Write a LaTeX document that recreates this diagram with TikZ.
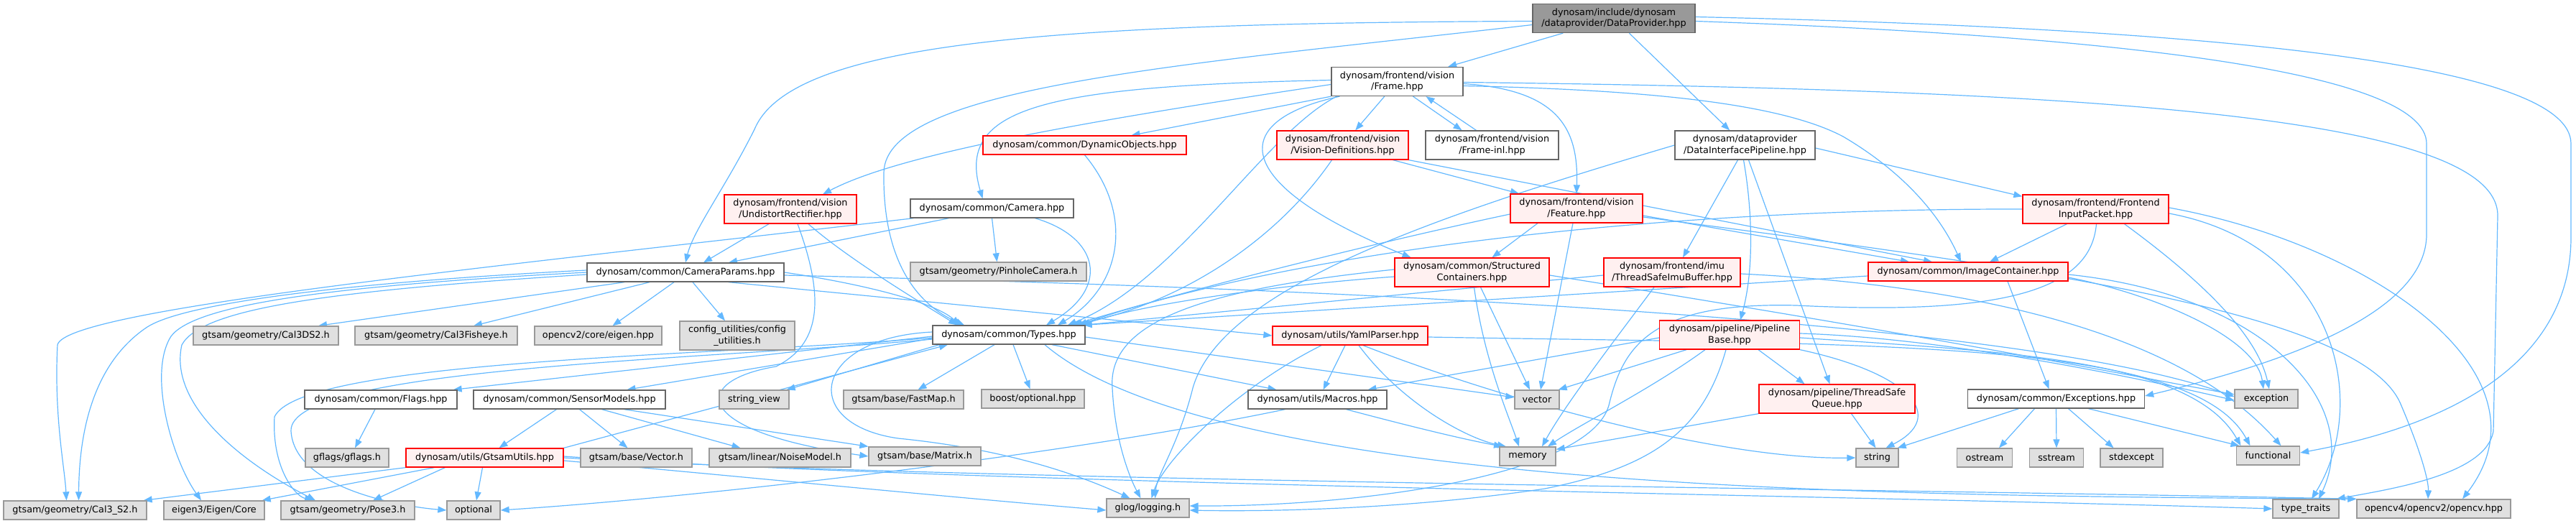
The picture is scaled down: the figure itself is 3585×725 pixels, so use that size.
\documentclass[tikz,border=0pt]{standalone}
\usepackage{fontspec}
\setmainfont{DejaVu Sans}
\usetikzlibrary{arrows.meta}
\definecolor{extfill}{HTML}{E0E0E0}
\definecolor{extdraw}{HTML}{999999}
\definecolor{locdraw}{HTML}{666666}
\definecolor{redfill}{HTML}{FFF0F0}
\definecolor{rootfill}{HTML}{999999}
\definecolor{edgec}{HTML}{63B8FF}
\pgfdeclarelayer{bg}
\pgfsetlayers{bg,main}
\begin{document}
\begin{tikzpicture}[x=1pt,y=-1pt,
  nd/.style={draw, rectangle, line width=1.3pt, align=center, inner xsep=3pt, inner ysep=2pt, minimum height=26pt, font=\fontsize{12.8}{15.3}\selectfont, text=black},
  two/.style={minimum height=40pt},
  ext/.style={nd, fill=extfill, draw=extdraw},
  loc/.style={nd, fill=white, draw=locdraw},
  trunc/.style={nd, fill=redfill, draw=red},
  root/.style={nd, fill=rootfill, draw=locdraw},
  e/.style={draw=edgec, line width=1.2pt, -{Triangle[length=12pt,width=9pt]}},
]
\useasboundingbox (0,0) rectangle (3585,725);
% row A
\node[root,two,minimum width=226pt] (dp) at (2246,25.5) {dynosam/include/dynosam\\/dataprovider/DataProvider.hpp};
% row B
\node[loc,two,minimum width=183pt] (frame) at (1944.5,113.5) {dynosam/frontend/vision\\/Frame.hpp};
% row C
\node[trunc,minimum width=283pt] (dynobj) at (1509.5,202) {dynosam/common/DynamicObjects.hpp};
\node[trunc,two,minimum width=183pt] (vdef) at (1868.5,202) {dynosam/frontend/vision\\/Vision-Definitions.hpp};
\node[loc,two,minimum width=185pt] (finl) at (2076.5,202) {dynosam/frontend/vision\\/Frame-inl.hpp};
\node[loc,two,minimum width=195pt] (dip) at (2428.5,202) {dynosam/dataprovider\\/DataInterfacePipeline.hpp};
% row D
\node[trunc,two,minimum width=184pt] (undist) at (1100,291) {dynosam/frontend/vision\\/UndistortRectifier.hpp};
\node[loc,minimum width=227pt] (camera) at (1380.5,290) {dynosam/common/Camera.hpp};
\node[trunc,two,minimum width=184pt] (feature) at (2194,290) {dynosam/frontend/vision\\/Feature.hpp};
\node[trunc,two,minimum width=203pt] (fip) at (2916.5,291) {dynosam/frontend/Frontend\\InputPacket.hpp};
% row E
\node[loc,minimum width=274pt] (camparams) at (954,379) {dynosam/common/CameraParams.hpp};
\node[ext,minimum width=245pt] (pinhole) at (1389.5,378) {gtsam/geometry/PinholeCamera.h};
\node[trunc,two,minimum width=215pt] (structc) at (2048.5,379) {dynosam/common/Structured\\Containers.hpp};
\node[trunc,two,minimum width=190pt] (imubuf) at (2327,379) {dynosam/frontend/imu\\/ThreadSafeImuBuffer.hpp};
\node[trunc,minimum width=278pt] (imgc) at (2739,378) {dynosam/common/ImageContainer.hpp};
% row F
\node[ext,minimum width=202pt] (cal3ds2) at (370,467) {gtsam/geometry/Cal3DS2.h};
\node[ext,minimum width=226pt] (fisheye) at (607,467) {gtsam/geometry/Cal3Fisheye.h};
\node[ext,minimum width=177pt] (cveigen) at (832.5,467) {opencv2/core/eigen.hpp};
\node[ext,two,minimum width=160pt] (config) at (1026,467) {config\_utilities/config\\\_utilities.h};
\node[loc,minimum width=212pt] (types) at (1404,466) {dynosam/common/Types.hpp};
\node[trunc,minimum width=216pt] (yaml) at (1879,467) {dynosam/utils/YamlParser.hpp};
\node[trunc,two,minimum width=195pt] (pbase) at (2407,466) {dynosam/pipeline/Pipeline\\Base.hpp};
% row G
\node[loc,minimum width=212pt] (flags) at (530,556) {dynosam/common/Flags.hpp};
\node[loc,minimum width=267pt] (sensor) at (792.5,556) {dynosam/common/SensorModels.hpp};
\node[ext,minimum width=97pt] (strview) at (1049.5,556) {string\_view};
\node[ext,minimum width=167pt] (fastmap) at (1257.5,556) {gtsam/base/FastMap.h};
\node[ext,minimum width=143pt] (boostopt) at (1437.5,555) {boost/optional.hpp};
\node[loc,minimum width=193pt] (macros) at (1833.5,556) {dynosam/utils/Macros.hpp};
\node[ext,minimum width=62pt] (vector) at (2139,556) {vector};
\node[trunc,two,minimum width=217pt] (tsq) at (2556.5,555) {dynosam/pipeline/ThreadSafe\\Queue.hpp};
\node[loc,minimum width=246pt] (exceptions) at (2861.5,555) {dynosam/common/Exceptions.hpp};
\node[ext,minimum width=88pt] (exception) at (3154,555) {exception};
% row H
\node[ext,minimum width=116pt] (gflags) at (483,637) {gflags/gflags.h};
\node[trunc,minimum width=219pt] (gtsamutils) at (674.5,637) {dynosam/utils/GtsamUtils.hpp};
\node[ext,minimum width=155pt] (vectorh) at (885.5,637) {gtsam/base/Vector.h};
\node[ext,minimum width=197pt] (noise) at (1085.5,637) {gtsam/linear/NoiseModel.h};
\node[ext,minimum width=156pt] (matrix) at (1287,635) {gtsam/base/Matrix.h};
\node[ext,minimum width=78pt] (memory) at (2126,635) {memory};
\node[ext,minimum width=59pt] (string) at (2612.5,637) {string};
\node[ext,minimum width=77pt] (ostream) at (2762,637) {ostream};
\node[ext,minimum width=75pt] (sstream) at (2862,637) {sstream};
\node[ext,minimum width=87pt] (stdexcept) at (2966.5,637) {stdexcept};
\node[ext,minimum width=88pt] (functional) at (3156.5,634) {functional};
% row I
\node[ext,minimum width=199pt] (cal3s2) at (104.5,710) {gtsam/geometry/Cal3\_S2.h};
\node[ext,minimum width=140pt] (eigencore) at (298,710) {eigen3/Eigen/Core};
\node[ext,minimum width=186pt] (pose3) at (484,710) {gtsam/geometry/Pose3.h};
\node[ext,minimum width=74pt] (optional) at (659,710) {optional};
\node[ext,minimum width=115pt] (glog) at (1597.5,707) {glog/logging.h};
\node[ext,minimum width=92pt] (typetraits) at (3209,708) {type\_traits};
\node[ext,minimum width=214pt] (opencv) at (3387,708) {opencv4/opencv2/opencv.hpp};

\begin{pgfonlayer}{bg}
% DataProvider
\draw[e] (dp) -- (frame);
\draw[e] (dp) -- (dip);
\draw[e] ([yshift=-4pt]dp.west) .. controls (1450,32) and (1100,60) .. (1050,180) .. controls (1010,260) and (965,320) .. (camparams.north);
\draw[e] ([yshift=-9pt]dp.west) .. controls (1650,90) and (1232,120) .. (1230,240) .. controls (1228,380) and (1290,430) .. ([xshift=-62pt]types.north);
\draw[e] ([yshift=2pt]dp.east) .. controls (3100,40) and (3578,90) .. (3578,200) -- (3578,330) .. controls (3578,500) and (3420,590) .. ([yshift=4pt]functional.east);
\draw[e] ([yshift=-4pt]dp.east) .. controls (2950,50) and (3377,100) .. (3377,200) -- (3377,326) .. controls (3377,430) and (3200,500) .. ([yshift=4pt]exceptions.east);
% Frame
\draw[e] (frame) -- (vdef);
\draw[e] ([xshift=22pt]frame.south) -- ([xshift=-42pt]finl.north);
\draw[e] ([xshift=-22pt]finl.north) -- ([xshift=40pt]frame.south);
\draw[e] ([yshift=-3pt]frame.east) .. controls (2170,125) and (2197,180) .. (feature.north);
\draw[e] ([yshift=-4pt]frame.west) .. controls (1500,170) and (1250,215) .. ([xshift=45pt]undist.north);
\draw[e] (frame.south west) -- ([xshift=65pt]dynobj.north);
\draw[e] ([yshift=2pt]frame.west) .. controls (1450,120) and (1330,150) .. ([xshift=-13pt]camera.north);
\draw[e] ([xshift=8pt]frame.south west) .. controls (1760,185) and (1640,390) .. ([xshift=82pt]types.north);
\draw[e] ([xshift=12pt]frame.south west) .. controls (1700,170) and (1720,260) .. ([xshift=-85pt]structc.north);
\draw[e] ([yshift=-6pt]frame.east) .. controls (2300,125) and (2480,145) .. (2565,190) .. controls (2650,240) and (2700,300) .. ([xshift=-10pt]imgc.north);
\draw[e] ([yshift=-1pt]frame.east) .. controls (2900,125) and (3476,160) .. (3476,300) -- (3470,600) .. controls (3460,660) and (3330,680) .. ([xshift=-4pt]typetraits.north east);
% Vision-Definitions
\draw[e] ([xshift=70pt]vdef.south) -- ([xshift=-80pt]feature.north);
\draw[e] ([xshift=-15pt]vdef.south) .. controls (1780,330) and (1650,420) .. ([xshift=90pt]types.north);
\draw[e] (vdef.south east) -- ([xshift=-50pt]imgc.north);
% DynamicObjects
\draw[e] (dynobj.south) .. controls (1580,300) and (1560,400) .. ([xshift=68pt]types.north);
% UndistortRectifier
\draw[e] ([xshift=-30pt]undist.south) -- ([xshift=25pt]camparams.north);
\draw[e] ([xshift=25pt]undist.south) .. controls (1180,360) and (1280,420) .. ([xshift=-72pt]types.north);
\draw[e] ([xshift=10pt]undist.south) .. controls (1150,420) and (1140,480) .. (1080,510) .. controls (960,530) and (960,600) .. (matrix.west);
% Camera
\draw[e] (camera.south) -- ([xshift=-2pt]pinhole.north);
\draw[e] ([xshift=-60pt]camera.south) -- ([xshift=60pt]camparams.north);
\draw[e] ([xshift=60pt]camera.south) .. controls (1530,330) and (1545,400) .. ([xshift=52pt]types.north);
\draw[e] ([xshift=5pt]camera.south west) .. controls (700,370) and (90,430) .. (80,480) .. controls (75,580) and (90,650) .. ([xshift=-12pt]cal3s2.north);
% CameraParams
\draw[e] ([xshift=-85pt]camparams.south) -- ([xshift=73pt]cal3ds2.north);
\draw[e] ([xshift=-50pt]camparams.south) -- ([xshift=52pt]fisheye.north);
\draw[e] ([xshift=-16pt]camparams.south) -- ([xshift=20pt]cveigen.north);
\draw[e] ([xshift=10pt]camparams.south) -- ([xshift=-17pt]config.north);
\draw[e] ([yshift=3pt]camparams.west) .. controls (500,392) and (260,420) .. (205,455) .. controls (130,505) and (110,600) .. ([xshift=5pt]cal3s2.north);
\draw[e] (camparams.west) .. controls (450,398) and (270,425) .. (238,468) .. controls (205,520) and (240,640) .. ([xshift=-18pt]eigencore.north);
\draw[e] ([yshift=-3pt]camparams.west) .. controls (450,405) and (280,430) .. (253,480) .. controls (235,560) and (330,640) .. ([xshift=-45pt]pose3.north);
\draw[e] (camparams.east) .. controls (1200,395) and (1300,420) .. ([xshift=-68pt]types.north);
\draw[e] ([xshift=60pt]camparams.south) -- (yaml.west);
\draw[e] ([yshift=-4pt]camparams.east) .. controls (1800,400) and (2800,440) .. ([yshift=3pt]exception.west);
% Types
\draw[e] ([yshift=-2pt]types.west) -- ([xshift=-6pt]flags.north east);
\draw[e] ([yshift=-5pt]types.west) -- ([xshift=80pt]sensor.north);
\draw[e] ([xshift=10pt]types.south west) -- ([xshift=-4pt]strview.north east);
\draw[e] ([xshift=-20pt]types.south) -- ([xshift=20pt]fastmap.north);
\draw[e] ([xshift=6pt]types.south) -- ([xshift=-4pt]boostopt.north);
\draw[e] ([xshift=60pt]types.south) -- ([xshift=-57pt]macros.north);
\draw[e] ([yshift=-3pt]types.east) -- ([yshift=3pt]vector.west);
\draw[e] ([yshift=4pt]types.west) .. controls (1130,470) and (1110,590) .. (1250,610) .. controls (1400,625) and (1500,660) .. ([xshift=-25pt]glog.north);
\draw[e] ([yshift=-4pt]types.west) .. controls (1000,495) and (420,500) .. (382,580) .. controls (378,650) and (410,690) .. ([xshift=-48pt]pose3.north);
\draw[e] ([yshift=-6pt]types.west) .. controls (1000,500) and (400,510) .. (405,600) .. controls (410,680) and (560,705) .. (optional.west);
\draw[e] ([xshift=50pt]types.south) .. controls (1700,690) and (2700,690) .. (opencv.north west);
% SensorModels
\draw[e] ([xshift=-18pt]sensor.south) -- ([xshift=20pt]gtsamutils.north);
\draw[e] ([xshift=14pt]sensor.south) -- ([xshift=-12pt]vectorh.north);
\draw[e] ([xshift=45pt]sensor.south) -- ([xshift=-55pt]noise.north);
\draw[e] ([xshift=76pt]sensor.south) -- (matrix.north west);
% GtsamUtils
\draw[e] (gtsamutils.south west) -- ([xshift=-5pt]cal3s2.north east);
\draw[e] ([xshift=40pt]gtsamutils.south west) -- ([xshift=-4pt]eigencore.north east);
\draw[e] ([xshift=55pt]gtsamutils.south west) -- ([xshift=35pt]pose3.north);
\draw[e] ([xshift=-3pt]gtsamutils.south) -- ([xshift=4pt]optional.north);
\draw[e] (gtsamutils.north east) -- ([xshift=-85pt]types.south);
\draw[e] ([yshift=-4pt]gtsamutils.east) .. controls (1000,660) and (1300,690) .. ([yshift=-3pt]glog.west);
\draw[e] ([yshift=2pt]gtsamutils.east) .. controls (1300,672) and (2600,690) .. (typetraits.west);
\draw[e] ([yshift=0pt]gtsamutils.east) .. controls (1300,668) and (2600,680) .. (opencv.north west);
% Flags
\draw[e] ([xshift=-8pt]flags.south) -- ([xshift=11pt]gflags.north);
% YamlParser
\draw[e] ([xshift=-7pt]yaml.south) -- ([xshift=8pt]macros.north);
\draw[e] ([xshift=12pt]yaml.south) .. controls (1950,560) and (2040,610) .. ([xshift=-30pt]memory.north);
\draw[e] ([xshift=-40pt]yaml.south) .. controls (1720,540) and (1620,640) .. ([xshift=5pt]glog.north);
\draw[e] ([xshift=18pt]yaml.south) .. controls (2100,560) and (2400,640) .. (string.west);
\draw[e] ([yshift=-2pt]yaml.east) .. controls (2600,480) and (3050,470) .. ([xshift=-25pt]functional.north);
% Macros
\draw[e] ([xshift=40pt]macros.south) .. controls (1950,590) and (2030,610) .. ([xshift=-35pt]memory.north);
\draw[e] ([xshift=-45pt]macros.south) .. controls (1500,630) and (1000,690) .. (optional.east);
% StructuredContainers
\draw[e] ([xshift=12pt]structc.south) -- ([xshift=-10pt]vector.north);
\draw[e] ([xshift=3pt]structc.south) .. controls (2065,500) and (2100,580) .. ([xshift=-12pt]memory.north);
\draw[e] ([yshift=-6pt]structc.west) .. controls (1800,395) and (1600,420) .. ([xshift=-6pt]types.north east);
\draw[e] ([yshift=-4pt]structc.east) .. controls (2700,470) and (2950,520) .. ([yshift=6pt]exception.west);
\draw[e] ([yshift=4pt]structc.west) .. controls (1700,400) and (1540,440) .. (1548,540) .. controls (1552,620) and (1575,670) .. ([xshift=-10pt]glog.north);
% ThreadSafeImuBuffer
\draw[e] ([xshift=-25pt]imubuf.south) .. controls (2250,470) and (2180,560) .. ([xshift=20pt]memory.north);
\draw[e] ([yshift=-4pt]imubuf.west) -- ([xshift=-3pt]types.north east);
\draw[e] ([yshift=-2pt]imubuf.east) .. controls (2800,400) and (3050,480) .. ([xshift=18pt]functional.north);
% PipelineBase
\draw[e] ([yshift=-4pt]pbase.west) -- ([xshift=70pt]macros.north);
\draw[e] ([xshift=-60pt]pbase.south) -- ([xshift=-2pt]vector.north east);
\draw[e] ([xshift=-34pt]pbase.south) .. controls (2300,540) and (2200,590) .. ([xshift=28pt]memory.north);
\draw[e] ([xshift=-5pt]pbase.south) .. controls (2370,600) and (2300,650) .. (2150,680) .. controls (1950,710) and (1750,712) .. ([yshift=-3pt]glog.east);
\draw[e] ([xshift=40pt]pbase.south) -- ([xshift=-45pt]tsq.north);
\draw[e] (pbase.south east) .. controls (2660,520) and (2710,580) .. ([xshift=12pt]string.north);
\draw[e] ([yshift=2pt]pbase.east) .. controls (2700,470) and (2950,520) .. ([yshift=-2pt]exception.west);
\draw[e] ([yshift=-4pt]pbase.east) .. controls (2800,490) and (3050,500) .. ([xshift=-38pt]functional.north);
% ThreadSafeQueue
\draw[e] (tsq.south west) -- ([yshift=-4pt]memory.north east);
\draw[e] ([xshift=20pt]tsq.south) -- ([xshift=-2pt]string.north);
% DataInterfacePipeline
\draw[e] ([xshift=-10pt]dip.south) -- ([xshift=15pt]imubuf.north);
\draw[e] ([xshift=-2pt]dip.south) .. controls (2440,300) and (2440,380) .. ([xshift=15pt]pbase.north);
\draw[e] ([xshift=5pt]dip.south) -- ([xshift=-10pt]tsq.north);
\draw[e] ([yshift=-4pt]dip.east) -- ([yshift=-3pt]fip.north west);
\draw[e] (dip.west) .. controls (2000,300) and (1700,400) .. (1660,540) .. controls (1640,620) and (1610,660) .. ([xshift=10pt]glog.north);
% ImageContainer
\draw[e] ([xshift=55pt]imgc.south) -- ([xshift=-10pt]exceptions.north);
\draw[e] ([yshift=-6pt]imgc.west) -- ([xshift=-3pt]types.north east);
\draw[e] ([yshift=-4pt]imgc.east) .. controls (3150,410) and (3290,560) .. ([xshift=18pt]typetraits.north);
\draw[e] ([yshift=-8pt]imgc.east) .. controls (3000,410) and (3140,470) .. ([xshift=-4pt]exception.north);
% FrontendInputPacket
\draw[e] ([xshift=-40pt]fip.south) -- ([xshift=30pt]imgc.north);
\draw[e] (fip.west) .. controls (2300,290) and (1800,350) .. ([xshift=-10pt]types.north east);
\draw[e] ([xshift=1pt]fip.south) .. controls (2910,400) and (2800,440) .. (2500,425) .. controls (2300,420) and (2260,480) .. (2240,560) .. controls (2220,660) and (1900,705) .. ([yshift=3pt]glog.east);
\draw[e] ([xshift=40pt]fip.south) .. controls (3050,380) and (3140,460) .. ([xshift=4pt]exception.north);
\draw[e] ([yshift=2pt]fip.east) .. controls (3300,340) and (3560,520) .. ([xshift=40pt]opencv.north);
\draw[e] ([yshift=-6pt]fip.east) .. controls (3250,340) and (3300,560) .. ([xshift=8pt]typetraits.north);
% Feature
\draw[e] ([xshift=-54pt]feature.south) -- ([xshift=28pt]structc.north);
\draw[e] ([xshift=-5pt]feature.south) -- ([xshift=5pt]vector.north);
\draw[e] ([yshift=-8pt]feature.west) .. controls (1950,330) and (1700,390) .. ([xshift=88pt]types.north);
\draw[e] ([yshift=-10pt]feature.east) -- ([xshift=-82pt]imgc.north);
\draw[e] ([yshift=-12pt]feature.east) .. controls (2800,370) and (3280,430) .. (3340,560) .. controls (3370,630) and (3380,670) .. ([xshift=-8pt]opencv.north);
% Exceptions
\draw[e] ([xshift=-52pt]exceptions.south) -- ([xshift=-2pt]string.north east);
\draw[e] ([xshift=-30pt]exceptions.south) -- ([xshift=20pt]ostream.north);
\draw[e] (exceptions.south) -- (sstream.north);
\draw[e] ([xshift=17pt]exceptions.south) -- ([xshift=-25pt]stdexcept.north);
\draw[e] ([xshift=45pt]exceptions.south) -- ([xshift=-40pt]functional.north);
\end{pgfonlayer}
\end{tikzpicture}
\end{document}
